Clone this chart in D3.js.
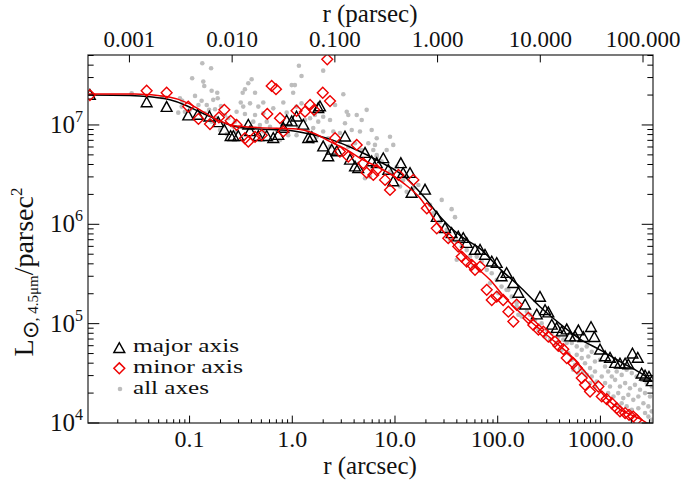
<!DOCTYPE html>
<html>
<head>
<meta charset="utf-8">
<script src="https://cdn.jsdelivr.net/npm/d3@7"></script>
<style>
  html, body { margin: 0; padding: 0; background: #fff; }
  svg { display: block; }
</style>
</head>
<body>
<svg id="chart" width="685" height="487" font-family="'Liberation Serif', 'Times New Roman', Times, serif"></svg>
<script>
// ---------- DATA (r in arcsec, L in L_sun(4.5um)/pc^2) ----------
const majorAxis = [
  [0.0107,2.0e7],[0.0382,1.68e7],[0.0598,1.51e7],[0.0971,1.24e7],[0.120,1.26e7],[0.156,1.21e7],
  [0.190,1.06e7],[0.218,8.9e6],[0.251,7.7e6],[0.267,7.7e6],[0.298,7.7e6],[0.373,1.0e7],
  [0.388,8.6e6],[0.467,7.7e6],[0.564,7.7e6],[0.653,7.35e6],[0.731,7.9e6],[0.818,9.3e6],
  [0.882,1.10e7],[0.987,1.08e7],[1.10,1.21e7],[1.28,1.0e7],[1.43,7.35e6],[1.55,7.5e6],
  [1.79,1.47e7],[1.86,1.53e7],[2.00,6.05e6],[2.24,4.8e6],[2.42,5.6e6],[2.71,5.4e6],
  [3.26,7.6e6],[3.65,4.45e6],[4.08,3.8e6],[4.39,3.66e6],[5.11,5.2e6],[5.93,4.28e6],
  [6.64,4.1e6],[7.69,4.6e6],[8.61,3.52e6],[9.62,2.69e6],[11.4,4.1e6],[12.0,3.27e6],
  [14.0,3.27e6],[14.5,2.06e6],[19.6,2.22e6],[25.5,1.18e6],[30.7,9.1e5],[35.6,8.1e5],
  [41.3,7.5e5],[46.2,7.25e5],[49.9,6.45e5],[60.1,5.5e5],[67.3,5.5e5],[75.2,4.9e5],
  [87.5,4.2e5],[97.8,4.06e5],[109,2.98e5],[122,3.22e5],[142,2.55e5],[159,2.03e5],
  [185,1.55e5],[240,1.23e5],[258,1.85e5],[289,1.36e5],[311,1.29e5],[336,9.7e4],
  [375,9.0e4],[420,8.3e4],[470,8.7e4],[506,7.4e4],[566,7.4e4],[610,8.5e4],[682,7.3e4],
  [810,9.2e4],[873,7.3e4],[991,5.45e4],[1110,4.67e4],[1240,4.5e4],[1390,4.0e4],
  [1550,3.95e4],[1740,3.95e4],[1870,3.86e4],[2050,4.97e4],[2310,4.5e4],[2520,3.13e4],
  [2720,2.99e4],[2970,2.9e4],[3160,2.62e4]
];
const minorAxis = [
  [0.0107,2.0e7],[0.0382,2.21e7],[0.0598,2.11e7],[0.0971,1.53e7],[0.122,1.15e7],[0.158,1.02e7],
  [0.193,1.19e7],[0.218,1.42e7],[0.251,1.10e7],[0.287,1.0e7],[0.346,7.35e6],[0.373,6.8e6],
  [0.434,7.6e6],[0.504,7.9e6],[0.571,1.29e7],[0.630,2.47e7],[0.694,2.29e7],[0.759,1.17e7],
  [0.818,8.6e6],[1.10,1.39e7],[1.33,1.36e7],[1.49,1.59e7],[1.63,1.42e7],[1.98,2.11e7],
  [2.33,1.74e7],[2.19,4.58e7],[2.61,7.35e6],[2.91,5.4e6],[3.51,4.8e6],[4.24,6.3e6],
  [4.91,4.1e6],[5.30,3.31e6],[6.15,3.14e6],[6.64,3.52e6],[8.0,2.8e6],[8.94,2.22e6],
  [10.8,3.14e6],[15.1,2.8e6],[20.4,1.45e6],[25.5,9.1e5],[33.0,7.25e5],[41.3,5.97e5],
  [44.6,4.73e5],[49.9,4.22e5],[55.8,3.91e5],[60.1,3.48e5],[67.3,3.75e5],[78.2,2.19e5],
  [87.5,1.73e5],[97.8,1.87e5],[113,1.73e5],[127,1.32e5],[142,1.05e5],[153,1.55e5],
  [199,1.14e5],[222,9.7e4],[249,8.7e4],[278,8.3e4],[311,7.4e4],[361,6.6e4],[389,5.98e4],
  [435,5.54e4],[470,4.5e4],[545,4.0e4],[588,3.57e4],[658,2.83e4],[708,2.42e4],[792,2.07e4],
  [955,2.33e4],[1030,1.85e4],[1150,1.74e4],[1290,1.58e4],[1440,1.41e4],[1550,1.31e4],
  [1740,1.26e4],[1900,1.21e4],[2090,1.16e4],[2250,1.08e4]
];
const allAxes = [
  [0.0273,2.08e7],[0.0542,1.90e7],[0.0806,1.86e7],[0.0849,1.75e7],[0.0776,1.33e7],[0.0901,1.36e7],
  [0.0838,1.53e7],[0.106,2.95e7],[0.133,4.18e7],[0.162,3.72e7],[0.136,2.73e7],[0.139,2.47e7],
  [0.113,1.96e7],[0.131,1.75e7],[0.164,2.21e7],[0.186,2.11e7],[0.188,1.86e7],[0.170,1.79e7],
  [0.147,1.59e7],[0.122,1.59e7],[0.101,1.42e7],[0.126,1.36e7],[0.141,1.31e7],[0.177,1.44e7],
  [0.202,1.55e7],[0.221,1.26e7],[0.238,1.17e7],[0.267,9.6e6],[0.230,8.1e6],[0.198,8.9e6],
  [0.155,1.42e7],[0.184,1.17e7],[0.164,1.08e7],
  [1.16,3.95e7],[1.23,3.11e7],[2.00,3.52e7],[0.402,2.88e7],[0.373,2.63e7],[0.346,2.29e7],
  [0.329,2.11e7],[0.434,2.11e7],[0.522,1.68e7],[0.315,1.68e7],[0.333,1.53e7],[0.388,1.65e7],
  [0.467,1.53e7],[0.287,1.36e7],[0.346,1.29e7],[0.434,1.26e7],[0.522,1.31e7],[0.653,1.47e7],
  [0.818,1.68e7],[0.987,2.52e7],[1.06,2.52e7],[1.02,2.11e7],[0.882,1.33e7],[1.23,1.65e7],
  [1.10,1.53e7],[1.49,1.17e7],[1.66,1.26e7],[1.33,1.12e7],[1.79,1.08e7],[2.00,1.21e7],
  [2.33,1.12e7],[3.14,2.04e7],[2.61,1.59e7],[3.39,1.36e7],[3.51,1.26e7],[4.24,1.26e7],
  [5.30,1.42e7],[4.74,1.12e7],[3.26,1.04e7],[5.93,8.9e6],[3.79,8.9e6],[4.56,8.6e6],
  [2.91,8.3e6],[2.51,8.6e6],[2.00,8.6e6],[1.60,9.3e6],[1.73,7.6e6],[2.24,7.35e6],
  [2.33,6.05e6],[2.91,6.8e6],[3.51,6.05e6],[4.08,6.55e6],[4.74,5.6e6],[5.50,6.55e6],
  [6.64,7.35e6],[6.15,5.6e6],[6.64,4.8e6],[5.11,2.91e6],[5.71,3.02e6],[1.10,7.9e6],
  [0.914,7.9e6],[0.705,8.9e6],[0.607,9.6e6],[0.564,1.08e7],[0.484,1.0e7],[0.417,1.08e7],
  [0.388,9.3e6],[0.310,9.6e6],[0.277,1.08e7],[0.287,8.6e6],[0.522,8.6e6],[0.759,7.06e6],
  [0.630,7.06e6],[0.484,7.06e6],[1.43,8.6e6],[1.60,6.8e6],[1.14,9.6e6],
  [6.38,6.3e6],[8.94,7.6e6],[9.62,6.3e6],[6.64,4.99e6],[8.30,5.6e6],[7.42,4.28e6],
  [10.4,3.8e6],[8.94,3.39e6],[12.0,2.8e6],[11.2,2.4e6],[13.0,2.13e6],[15.1,2.31e6],
  [16.9,2.49e6],[28.5,1.76e6],[35.6,1.42e6],[38.4,1.18e6],[21.9,1.57e6],[23.6,1.29e6],
  [27.4,1.06e6],[31.9,8.8e5],[34.3,6.97e5],[39.9,6.7e5],[44.6,5.97e5],[49.9,5.5e5],
  [39.9,4.39e5],[53.7,4.73e5],[62.5,4.73e5],[69.8,4.22e5],[57.8,3.75e5],[78.2,3.48e5],
  [87.5,3.22e5],[97.8,2.76e5],[109,2.36e5],[122,2.19e5],[137,1.87e5],[153,1.61e5],
  [84.1,2.55e5],[101,2.03e5],
  [127,2.19e5],[153,1.49e5],[171,1.18e5],[159,1.23e5],[192,1.32e5],[206,1.23e5],
  [231,1.09e5],[268,1.01e5],[300,8.7e4],[336,8.0e4],[389,7.4e4],[435,6.9e4],[470,6.4e4],
  [526,6.4e4],[588,5.9e4],[658,5.45e4],[736,5.9e4],[823,5.2e4],[762,4.67e4],[658,4.5e4],
  [588,4.85e4],[526,4.32e4],[566,3.86e4],[633,3.57e4],[708,4.0e4],[792,3.57e4],[885,3.3e4],
  [885,4.16e4],[991,4.32e4],[1110,3.7e4],[1190,3.3e4],[1030,2.94e4],[920,2.62e4],
  [823,2.94e4],[736,3.05e4],[1290,2.94e4],[1440,3.3e4],[1610,3.05e4],[1800,3.43e4],
  [2020,3.18e4],[2250,2.94e4],[2520,2.72e4],[2820,2.52e4],[3160,2.33e4],[1110,2.52e4],
  [1240,2.33e4],[1390,2.72e4],[1550,2.33e4],[1740,2.52e4],[1940,2.24e4],[2170,2.42e4],
  [2430,2.16e4],[2720,2.0e4],[3040,1.85e4],[1190,2.0e4],[1340,1.85e4],[1490,2.0e4],
  [1670,1.78e4],[1870,1.92e4],[2090,1.71e4],[2340,1.85e4],[2620,1.58e4],[2930,1.47e4],
  [3160,1.31e4],[2720,1.26e4],[2340,1.41e4],[2020,1.36e4],[1800,1.47e4],[1610,1.58e4],
  [1440,1.52e4],[3160,1.08e4],[2930,1.16e4],[885,2.33e4],[792,2.52e4],[682,3.3e4],
  [610,3.18e4],[545,3.43e4],[487,5.05e4],[420,5.45e4],[375,6.4e4],[323,6.9e4],
  [289,7.4e4],[249,8.7e4]
];
const modelMajor = [
  [0.01026,2.0e7],[0.0263,1.98e7],[0.0411,1.92e7],[0.0644,1.79e7],[0.0901,1.59e7],[0.126,1.35e7],
  [0.177,1.15e7],[0.247,1.0e7],[0.388,9.2e6],[0.607,9.0e6],[0.950,8.8e6],[1.49,8.1e6],
  [2.33,7.2e6],[3.65,6.0e6],[5.11,5.1e6],[7.14,4.25e6],[10.0,3.52e6],[12.5,3.0e6],
  [15.7,2.38e6],[19.6,1.84e6],[25.6,1.30e6],[34.3,9.4e5],[48.1,7.1e5],[67.3,5.7e5],
  [105,3.56e5],[158,2.45e5],[258,1.48e5],[404,9.95e4],[634,7.0e4],[991,5.45e4],
  [1550,4.15e4],[2430,3.21e4],[3250,2.61e4]
];
const modelMinor = [
  [0.01026,2.05e7],[0.0294,2.05e7],[0.0616,1.92e7],[0.0965,1.66e7],[0.132,1.38e7],[0.189,1.12e7],
  [0.277,9.8e6],[0.484,9.4e6],[1.11,9.1e6],[1.59,8.3e6],[2.33,6.8e6],[3.41,5.6e6],
  [4.88,4.45e6],[7.14,3.69e6],[12.0,2.61e6],[17.5,1.84e6],[25.6,1.03e6],[34.3,6.97e5],
  [53.7,4.19e5],[84.1,2.76e5],[118,1.82e5],[158,1.35e5],[247,9.1e4],[361,6.56e4],
  [529,4.63e4],[792,2.85e4],[1110,1.84e4],[1550,1.37e4],[1940,1.22e4],[2430,1.10e4],
  [2930,9.8e3],[3250,9.2e3]
];
const rDomainArcsec = [0.01026, 3250];
const lDomain = [1e4, 5.06e7];
const parsecPerArcsec = 0.0385;
const bottomTicks = [0.1, 1, 10, 100, 1000];
const bottomTickLabels = ["0.1", "1.0", "10.0", "100.0", "1000.0"];
const topTicks = [0.001, 0.01, 0.1, 1, 10, 100];
const topTickLabels = ["0.001", "0.010", "0.100", "1.000", "10.000", "100.000"];
const yTicks = [1e4, 1e5, 1e6, 1e7];
const yTickExponents = ["4", "5", "6", "7"];
const legendLabels = ["major axis", "minor axis", "all axes"];

// ---------- LAYOUT ----------
const FONT = "'Liberation Serif', 'Times New Roman', Times, serif";
const svg = d3.select("#chart");
const L = 88, R = 653, T = 55, B = 423;
const x = d3.scaleLog().domain(rDomainArcsec).range([L, R]);
const xTop = d3.scaleLog().domain(rDomainArcsec.map(d => d * parsecPerArcsec)).range([L, R]);
const y = d3.scaleLog().domain(lDomain).range([B, T]);
const tickLenX = 7.4, tickLenY = 11.3;

svg.append("defs").append("clipPath").attr("id", "plotclip")
  .append("rect").attr("x", L).attr("y", T).attr("width", R - L).attr("height", B - T);

const plot = svg.append("g").attr("clip-path", "url(#plotclip)");

plot.append("g").selectAll("circle").data(allAxes).join("circle")
  .attr("cx", d => x(d[0])).attr("cy", d => y(d[1])).attr("r", 2.3)
  .attr("fill", "#bdbdbd");

const tri = (cx, cy) => `M${cx-5.4},${cy+4.2}L${cx+5.4},${cy+4.2}L${cx},${cy-5.6}Z`;
const dia = (cx, cy) => `M${cx},${cy-5.4}L${cx+5.4},${cy}L${cx},${cy+5.4}L${cx-5.4},${cy}Z`;

plot.append("g").selectAll("path").data(majorAxis).join("path")
  .attr("d", d => tri(x(d[0]), y(d[1])))
  .attr("fill", "none").attr("stroke", "#000").attr("stroke-width", 1.4);

const line = d3.line().x(d => x(d[0])).y(d => y(d[1])).curve(d3.curveMonotoneX);

plot.append("path").datum(modelMajor).attr("d", line)
  .attr("fill", "none").attr("stroke", "#000").attr("stroke-width", 1.5);

plot.append("g").selectAll("path").data(minorAxis).join("path")
  .attr("d", d => dia(x(d[0]), y(d[1])))
  .attr("fill", "none").attr("stroke", "#ee0000").attr("stroke-width", 1.4);

plot.append("path").datum(modelMinor).attr("d", line)
  .attr("fill", "none").attr("stroke", "#ee0000").attr("stroke-width", 1.5);

// ---------- AXES ----------
const ax = svg.append("g");
ax.append("rect").attr("x", L).attr("y", T).attr("width", R - L).attr("height", B - T)
  .attr("fill", "none").attr("stroke", "#333").attr("stroke-width", 1.3);

const [dx0, dx1] = rDomainArcsec;
const bottomMinor = [];
for (let e = -2; e <= 3; e++) for (let m = 2; m <= 9; m++) {
  const v = m * Math.pow(10, e);
  if (v >= dx0 && v <= dx1) bottomMinor.push(v);
}
ax.selectAll(".bmin").data(bottomMinor).join("line")
  .attr("x1", d => x(d)).attr("x2", d => x(d)).attr("y1", B).attr("y2", B - tickLenX / 2)
  .attr("stroke", "#000").attr("stroke-width", 1);
ax.selectAll(".bmaj").data(bottomTicks).join("line")
  .attr("x1", d => x(d)).attr("x2", d => x(d)).attr("y1", B).attr("y2", B - tickLenX)
  .attr("stroke", "#000").attr("stroke-width", 1);
ax.selectAll(".blab").data(bottomTicks).join("text")
  .attr("font-family", FONT)
  .attr("x", d => x(d)).attr("y", 447).attr("text-anchor", "middle")
  .attr("font-size", 24).attr("fill", "#111").text((d, i) => bottomTickLabels[i]);

ax.selectAll(".tmaj").data(topTicks).join("line")
  .attr("x1", d => xTop(d)).attr("x2", d => xTop(d)).attr("y1", T).attr("y2", T + tickLenX)
  .attr("stroke", "#000").attr("stroke-width", 1);
ax.selectAll(".tlab").data(topTicks).join("text")
  .attr("font-family", FONT)
  .attr("x", d => xTop(d)).attr("y", 47).attr("text-anchor", "middle")
  .attr("font-size", 23).attr("fill", "#111").text((d, i) => topTickLabels[i]);

const yMinor = [];
for (let e = 4; e <= 7; e++) for (let m = 2; m <= 9; m++) {
  const v = m * Math.pow(10, e);
  if (v >= lDomain[0] && v <= lDomain[1]) yMinor.push(v);
}
[[L, 1], [R, -1]].forEach(([x0, dir]) => {
  ax.append("g").selectAll("line").data(yMinor).join("line")
    .attr("x1", x0).attr("x2", x0 + dir * tickLenY / 2).attr("y1", d => y(d)).attr("y2", d => y(d))
    .attr("stroke", "#000").attr("stroke-width", 1);
  ax.append("g").selectAll("line").data(yTicks).join("line")
    .attr("x1", x0).attr("x2", x0 + dir * tickLenY).attr("y1", d => y(d)).attr("y2", d => y(d))
    .attr("stroke", "#000").attr("stroke-width", 1);
});
const ylab = ax.selectAll(".ylab").data(yTicks).join("text")
  .attr("font-family", FONT).attr("fill", "#111")
  .attr("x", 83).attr("y", d => y(d) + 8).attr("text-anchor", "end").attr("font-size", 25);
ylab.append("tspan").text("10");
ylab.append("tspan").attr("dy", -11).attr("font-size", 16).text((d, i) => yTickExponents[i]);

svg.append("text").attr("font-family", FONT).attr("fill", "#111")
  .attr("x", 370).attr("y", 22).attr("text-anchor", "middle")
  .attr("font-size", 25).text("r (parsec)");
svg.append("text").attr("font-family", FONT).attr("fill", "#111")
  .attr("x", 370).attr("y", 474).attr("text-anchor", "middle")
  .attr("font-size", 25).text("r (arcsec)");

const yt = svg.append("text").attr("font-family", FONT).attr("fill", "#111")
  .attr("transform", "translate(33,272) rotate(-90)")
  .attr("text-anchor", "middle").attr("font-size", 28);
yt.append("tspan").text("L");
yt.append("tspan").attr("dy", 5).attr("font-size", 22).text("\u2299");
yt.append("tspan").attr("font-size", 15).text(", 4.5\u03bcm");
yt.append("tspan").attr("dy", -5).text("/parsec");
yt.append("tspan").attr("dy", -11).attr("font-size", 17).text("2");

// ---------- LEGEND ----------
const lg = svg.append("g");
lg.append("path").attr("d", tri(119.3, 348.3)).attr("fill", "none").attr("stroke", "#000").attr("stroke-width", 1.5);
lg.append("path").attr("d", dia(119.3, 368.3)).attr("fill", "none").attr("stroke", "#ee0000").attr("stroke-width", 1.5);
lg.append("circle").attr("cx", 120).attr("cy", 389).attr("r", 2.3).attr("fill", "#bdbdbd");
const legendWidths = [106, 110, 76];
lg.selectAll("text.leg").data(legendLabels).join("text")
  .attr("font-family", FONT).attr("fill", "#111")
  .attr("x", 133).attr("y", (d, i) => [352, 373, 394][i]).attr("font-size", 18)
  .attr("textLength", (d, i) => legendWidths[i]).attr("lengthAdjust", "spacingAndGlyphs")
  .text(d => d);
</script>
</body>
</html>
